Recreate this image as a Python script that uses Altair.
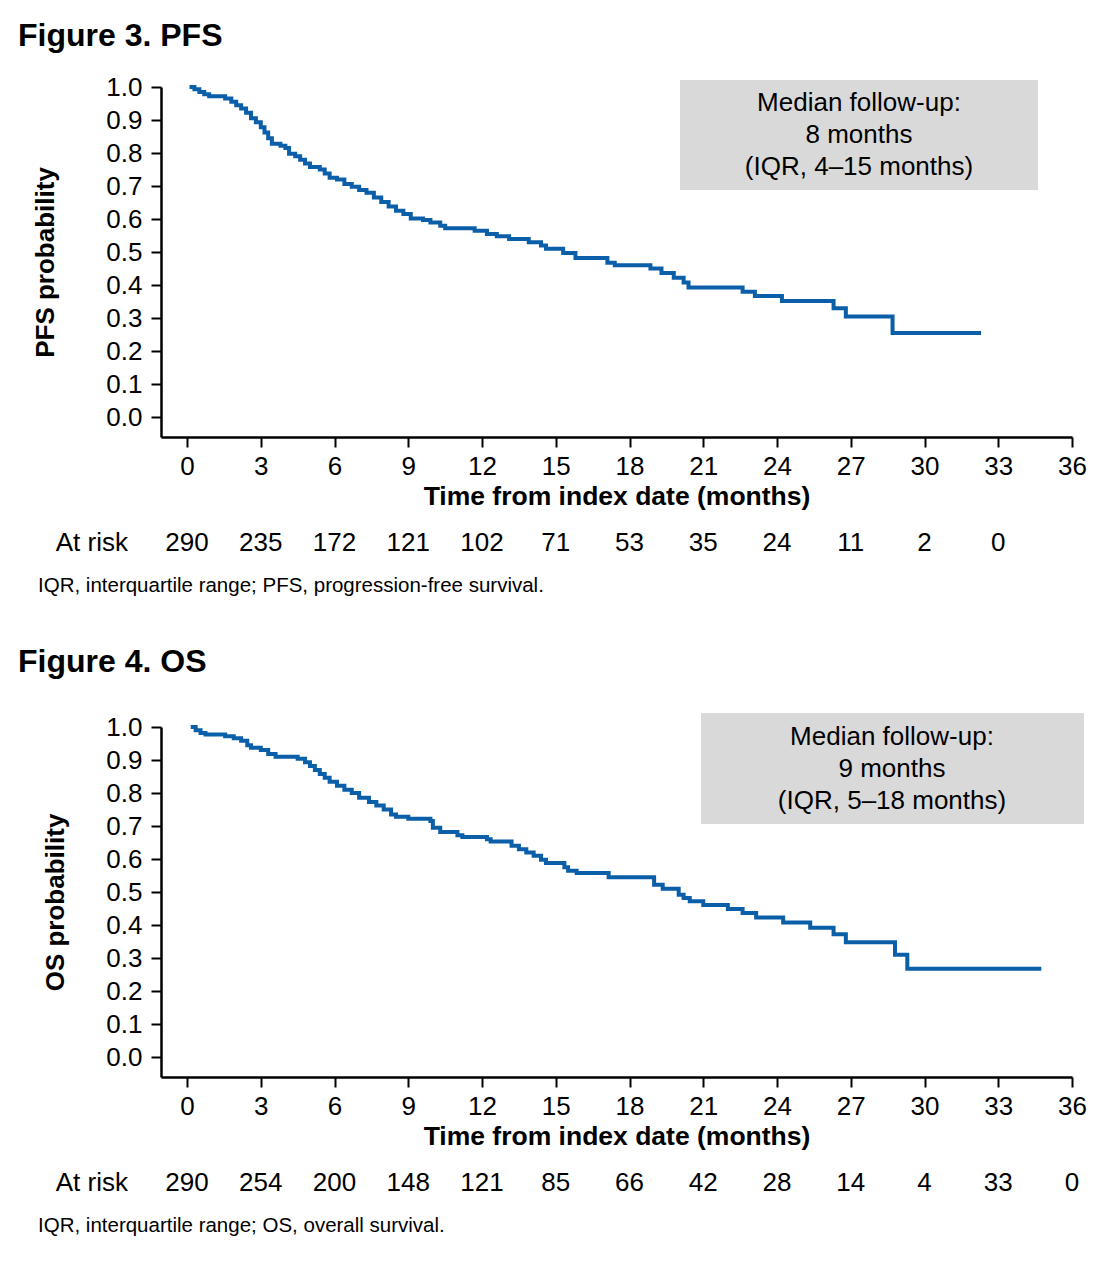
import altair as alt
import pandas as pd

FONT = "Liberation Sans"
BLUE = "#0b5ea8"
BOX = "#d9d9d9"

# ---------------- data ----------------
pfs_time = [0.1, 0.3, 0.5, 0.7, 0.9, 1.55, 1.8, 2.0, 2.2, 2.4, 2.6, 2.8, 3.0, 3.15,
            3.3, 3.45, 3.8, 4.0, 4.15, 4.4, 4.6, 4.8, 5.0, 5.4, 5.6, 5.8, 6.1, 6.4,
            6.7, 7.0, 7.3, 7.6, 7.9, 8.2, 8.5, 8.8, 9.1, 9.6, 9.9, 10.3, 10.5, 11.7,
            12.2, 12.6, 13.1, 13.9, 14.4, 14.6, 15.3, 15.8, 17.1, 17.4, 18.85, 19.3,
            19.8, 20.2, 20.4, 22.6, 23.1, 24.2, 26.3, 26.8, 28.7, 32.3]
pfs_surv = [1.0, 0.993, 0.985, 0.978, 0.972, 0.965, 0.955, 0.945, 0.935, 0.922, 0.905,
            0.893, 0.878, 0.862, 0.845, 0.828, 0.822, 0.815, 0.798, 0.79, 0.78, 0.768,
            0.758, 0.75, 0.738, 0.725, 0.72, 0.706, 0.698, 0.688, 0.68, 0.665, 0.652,
            0.638, 0.625, 0.615, 0.602, 0.597, 0.59, 0.58, 0.572, 0.565, 0.555, 0.548,
            0.54, 0.53, 0.52, 0.51, 0.497, 0.482, 0.468, 0.46, 0.45, 0.437, 0.422,
            0.408, 0.393, 0.38, 0.367, 0.352, 0.33, 0.305, 0.255, 0.255]

os_time = [0.15, 0.35, 0.55, 0.75, 1.55, 1.9, 2.2, 2.45, 2.6, 3.0, 3.3, 3.6, 4.5, 4.8,
           5.0, 5.2, 5.4, 5.6, 5.8, 6.1, 6.4, 6.7, 7.0, 7.4, 7.7, 8.0, 8.3, 8.5, 9.0,
           9.9, 10.0, 10.3, 11.0, 11.2, 12.2, 12.35, 13.2, 13.5, 13.8, 14.1, 14.4,
           14.6, 15.35, 15.5, 15.85, 17.15, 19.0, 19.35, 20.0, 20.2, 20.45, 21.0,
           22.0, 22.6, 23.15, 24.25, 25.35, 26.3, 26.8, 28.8, 29.3, 34.75]
os_surv = [1.0, 0.99, 0.982, 0.977, 0.972, 0.966, 0.958, 0.945, 0.937, 0.93, 0.918,
           0.91, 0.904, 0.893, 0.882, 0.87, 0.858, 0.846, 0.834, 0.822, 0.81, 0.8,
           0.786, 0.773, 0.762, 0.75, 0.735, 0.728, 0.722, 0.715, 0.695, 0.682, 0.672,
           0.667, 0.66, 0.653, 0.64, 0.63, 0.62, 0.61, 0.598, 0.588, 0.575, 0.565,
           0.558, 0.545, 0.522, 0.51, 0.492, 0.482, 0.472, 0.461, 0.449, 0.437, 0.423,
           0.408, 0.392, 0.372, 0.348, 0.31, 0.268, 0.268]

pfs_risk_time = [0, 3, 6, 9, 12, 15, 18, 21, 24, 27, 30, 33]
pfs_risk = [290, 235, 172, 121, 102, 71, 53, 35, 24, 11, 2, 0]
os_risk_time = [0, 3, 6, 9, 12, 15, 18, 21, 24, 27, 30, 33, 36]
os_risk = [290, 254, 200, 148, 121, 85, 66, 42, 28, 14, 4, 33, 0]

x_ticks = [0, 3, 6, 9, 12, 15, 18, 21, 24, 27, 30, 33, 36]
y_ticks = [0.0, 0.1, 0.2, 0.3, 0.4, 0.5, 0.6, 0.7, 0.8, 0.9, 1.0]

W, H = 911, 350


def panel(times, surv, rtimes, rvals, ylab, fig_title, box_lines, footnote,
          title_y, ytitle_x, box, box_text_xy):
    curve = pd.DataFrame({"t": times, "s": surv})
    risk = pd.DataFrame({"t": rtimes, "n": [str(v) for v in rvals]})
    one = pd.DataFrame({"k": [0]})

    xs = alt.Scale(domain=[-1.06, 36], nice=False, zero=False)
    ys = alt.Scale(domain=[-0.06, 1.0], nice=False, zero=False)
    xaxis = alt.Axis(values=x_ticks, format="d",
                     title="Time from index date (months)",
                     labelPadding=6, titlePadding=4, labelFlush=False,
                     labelOverlap=False, titleFontSize=26.5)

    line = alt.Chart(curve).mark_line(
        interpolate="step-after", color=BLUE, strokeWidth=4
    ).encode(
        x=alt.X("t:Q", scale=xs, axis=xaxis),
        y=alt.Y("s:Q", scale=ys,
                axis=alt.Axis(values=y_ticks, format=".1f", title=ylab,
                              labelPadding=9, titleX=ytitle_x, titleY=H / 2,
                              titleAngle=270, titleBaseline="alphabetic",
                              titleAlign="center", labelFlush=False,
                              labelOverlap=False)),
    )

    rect = alt.Chart(one).mark_rect(color=BOX).encode(
        x=alt.value(box[0]), x2=alt.value(box[1]),
        y=alt.value(box[2]), y2=alt.value(box[3]),
    )
    btxt = alt.Chart(one).mark_text(
        text=box_lines, font=FONT, fontSize=26, lineHeight=32,
        align="center", baseline="middle", color="black"
    ).encode(x=alt.value(box_text_xy[0]), y=alt.value(box_text_xy[1]))

    risk_txt = alt.Chart(risk).mark_text(
        font=FONT, fontSize=26, baseline="middle", color="black"
    ).encode(
        x=alt.X("t:Q", scale=xs, axis=xaxis),
        y=alt.value(456),
        text="n:N",
    )
    risk_lab = alt.Chart(one).mark_text(
        text="At risk", font=FONT, fontSize=26, align="right",
        baseline="middle", color="black"
    ).encode(x=alt.value(-33), y=alt.value(456))

    foot = alt.Chart(one).mark_text(
        text=footnote, font=FONT, fontSize=20.5, align="left",
        baseline="middle", color="black"
    ).encode(x=alt.value(-123), y=alt.value(499))

    ttl = alt.Chart(one).mark_text(
        text=fig_title, font=FONT, fontSize=32, fontWeight="bold",
        align="left", baseline="alphabetic", color="black"
    ).encode(x=alt.value(-143), y=alt.value(title_y))

    return alt.layer(rect, btxt, line, risk_txt, risk_lab, foot, ttl).properties(
        width=W, height=H
    )


p3 = panel(pfs_time, pfs_surv, pfs_risk_time, pfs_risk, "PFS probability",
           "Figure 3. PFS",
           ["Median follow-up:", "8 months", "(IQR, 4\u201315 months)"],
           "IQR, interquartile range; PFS, progression-free survival.",
           -41, -108, (519, 877, -7, 103), (698, 16))
p4 = panel(os_time, os_surv, os_risk_time, os_risk, "OS probability",
           "Figure 4. OS",
           ["Median follow-up:", "9 months", "(IQR, 5\u201318 months)"],
           "IQR, interquartile range; OS, overall survival.",
           -55, -98, (540, 923, -14, 97), (731, 10))

chart = alt.vconcat(p3, p4, spacing=290, bounds="flush").properties(
    padding={"left": 18, "top": 20, "right": 10, "bottom": 10},
    background="white",
).configure_view(stroke=None).configure_axis(
    grid=False, domainColor="black", domainWidth=2.5, tickColor="black",
    tickWidth=2, tickSize=10, labelFont=FONT, labelFontSize=26,
    labelColor="black", titleFont=FONT, titleFontSize=26,
    titleFontWeight="bold", titleColor="black",
)

chart.save("out.html", embed_options={"renderer": "svg", "actions": False})
